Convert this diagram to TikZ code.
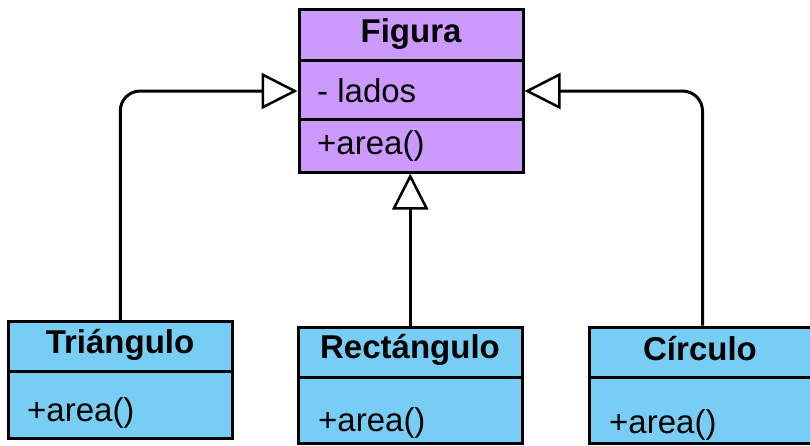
\documentclass[tikz,border=0pt]{standalone}
\usepackage{fontspec}
\setmainfont{Liberation Sans}
\usetikzlibrary{arrows.meta}

\definecolor{classpurple}{HTML}{CC99FF}
\definecolor{classblue}{HTML}{77CDF3}

\tikzset{
  umlbox/.style={draw=black, line width=3pt, rectangle, inner sep=0pt},
  divider/.style={draw=black, line width=3pt},
  classname/.style={anchor=base, inner sep=0pt, font=\fontsize{33}{40}\selectfont\bfseries},
  member/.style={anchor=base west, inner sep=0pt, font=\fontsize{33}{40}\selectfont},
  inherit/.style={draw=black, line width=3pt, rounded corners=20pt,
    -{Triangle[open, length=36pt, width=36pt, line width=2.5pt]}},
}

\begin{document}
\begin{tikzpicture}[x=1pt, y=-1pt]
\useasboundingbox (0,0) rectangle (810,445);
\clip (0,0) rectangle (810,445);

% superclass
\node[umlbox, fill=classpurple, minimum width=224pt, minimum height=162.5pt] (fig) at (411,90.75) {};
\draw[divider] (fig.west |- 0,60) -- (fig.east |- 0,60);
\draw[divider] (fig.west |- 0,119) -- (fig.east |- 0,119);
\node[classname] (figname) at (411,42) {Figura};
\node[member] (figattr) at (317,102) {- lados};
\node[member] (figop) at (317,154) {+area()};

% subclasses
\node[umlbox, fill=classblue, minimum width=223.5pt, minimum height=116.5pt] (tri) at (120.25,379.75) {};
\draw[divider] (tri.west |- 0,371) -- (tri.east |- 0,371);
\node[classname] (triname) at (120,353) {Triángulo};
\node[member] (triop) at (27,421) {+area()};

\node[umlbox, fill=classblue, minimum width=223.5pt, minimum height=116pt] (rect) at (410.25,385) {};
\draw[divider] (rect.west |- 0,377) -- (rect.east |- 0,377);
\node[classname] (rectname) at (410,358) {Rectángulo};
\node[member] (rectop) at (318,431) {+area()};

\node[umlbox, fill=classblue, minimum width=226pt, minimum height=116pt] (circ) at (702.5,385) {};
\draw[divider] (circ.west |- 0,377) -- (circ.east |- 0,377);
\node[classname] (circname) at (700,360) {Círculo};
\node[member] (circop) at (609,433) {+area()};

% generalisation arrows
\coordinate (figleft) at (fig.west |- 0,91);
\coordinate (figright) at (fig.east |- 0,91);
\draw[inherit] (tri.north) |- (figleft);
\draw[inherit] (circ.north) |- (figright);
\draw[inherit] (rect.north) -- (rect.north |- fig.south);
\end{tikzpicture}
\end{document}
